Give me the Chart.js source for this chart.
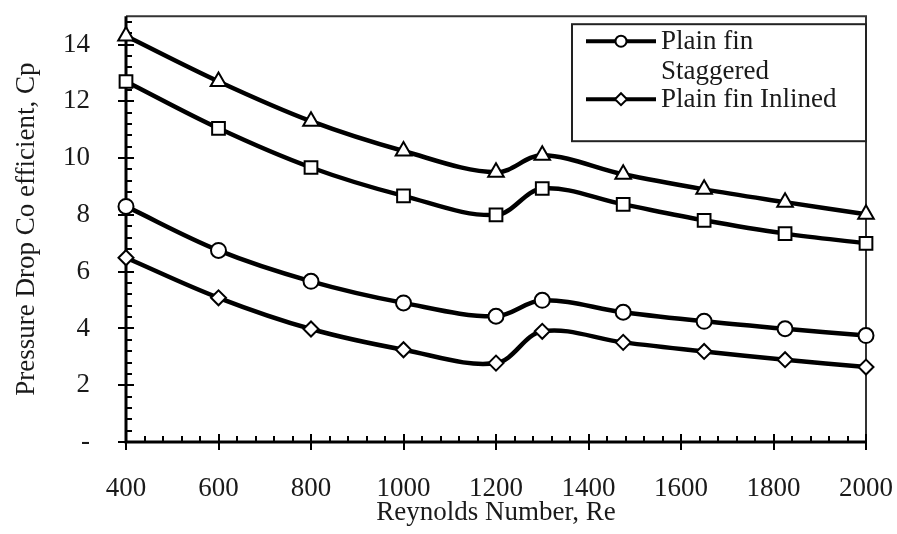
<!DOCTYPE html>
<html>
<head>
<meta charset="utf-8">
<script src="https://cdn.jsdelivr.net/npm/chart.js@4.4.1/dist/chart.umd.min.js"></script>
<style>
  html, body { margin: 0; padding: 0; background: #fff; }
  #wrap { width: 897px; height: 534px; }
</style>
</head>
<body>
<div id="wrap"><canvas id="cpChart"></canvas></div>
<script>
// data
const reynolds = [400, 600, 800, 1000, 1200, 1300, 1475, 1650, 1825, 2000];
const cpTriangle = [14.3, 12.7, 11.3, 10.25, 9.5, 10.1, 9.43, 8.9, 8.45, 8.02];
const cpSquare = [12.7, 11.05, 9.67, 8.67, 8.0, 8.93, 8.37, 7.81, 7.34, 7.0];
const cpStaggered = [8.3, 6.75, 5.66, 4.9, 4.43, 4.99, 4.57, 4.25, 3.99, 3.75];
const cpInlined = [6.49, 5.08, 3.98, 3.25, 2.78, 3.9, 3.51, 3.19, 2.9, 2.64];
const legendNames = [['Plain fin', 'Staggered'], ['Plain fin Inlined']];
const xTitle = 'Reynolds Number, Re';
const yTitle = 'Pressure Drop Co efficient, Cp';

const FONT = 'Liberation Serif, Times New Roman, serif';
const toPts = (ys) => reynolds.map((x, i) => ({ x: x, y: ys[i] }));

function series(ys, style, r) {
    return {
        data: toPts(ys),
        borderColor: '#000', borderWidth: 4.5,
        pointStyle: style, pointRadius: r, pointHoverRadius: r,
        pointBackgroundColor: '#fff', pointBorderColor: '#000', pointBorderWidth: 2,
        tension: 0.35, clip: false, fill: false
    };
}

// axis frame + major/minor ticks
const framePlugin = {
    id: 'frame',
    beforeDatasetsDraw(chart) {
        const { ctx, chartArea: a, scales: { x, y } } = chart;
        ctx.save();
        ctx.strokeStyle = '#333'; ctx.lineWidth = 2;
        ctx.beginPath();
        ctx.moveTo(a.left, a.top); ctx.lineTo(a.right, a.top); ctx.lineTo(a.right, a.bottom);
        ctx.stroke();
        ctx.strokeStyle = '#000'; ctx.lineWidth = 3;
        ctx.beginPath();
        ctx.moveTo(a.left, a.top); ctx.lineTo(a.left, a.bottom); ctx.lineTo(a.right, a.bottom);
        ctx.stroke();
        ctx.lineWidth = 2;
        ctx.beginPath();
        for (let i = 0; i <= 37; i++) {
            const py = Math.round(y.getPixelForValue(i * 0.4));
            if (i % 5 === 0) { ctx.moveTo(a.left - 8, py); ctx.lineTo(a.left + 8, py); }
            else { ctx.moveTo(a.left, py); ctx.lineTo(a.left + 6, py); }
        }
        for (let i = 0; i <= 40; i++) {
            const px = Math.round(x.getPixelForValue(400 + i * 40));
            if (i % 5 === 0) { ctx.moveTo(px, a.bottom - 8); ctx.lineTo(px, a.bottom + 8); }
            else { ctx.moveTo(px, a.bottom); ctx.lineTo(px, a.bottom - 6); }
        }
        ctx.stroke();
        ctx.restore();
    }
};

// boxed legend top right
const legendPlugin = {
    id: 'boxLegend',
    afterDraw(chart) {
        const { ctx, chartArea: a } = chart;
        const bw = 294, bh = 117;
        const bx = a.right - bw, by = a.top + 8;
        ctx.save();
        ctx.fillStyle = '#fff';
        ctx.fillRect(bx, by, bw, bh);
        ctx.strokeStyle = '#222'; ctx.lineWidth = 2;
        ctx.strokeRect(bx, by, bw, bh);
        const rows = [
            { y: by + 17, style: 'circle', r: 5.5, lines: legendNames[0] },
            { y: by + 75, style: 'rectRot', r: 6, lines: legendNames[1] }
        ];
        ctx.font = '27px ' + FONT;
        ctx.textBaseline = 'alphabetic';
        ctx.textAlign = 'left';
        rows.forEach((row) => {
            ctx.strokeStyle = '#000'; ctx.lineWidth = 4;
            ctx.beginPath(); ctx.moveTo(bx + 14, row.y); ctx.lineTo(bx + 84, row.y); ctx.stroke();
            ctx.fillStyle = '#fff'; ctx.lineWidth = 2;
            Chart.helpers.drawPoint(ctx, { pointStyle: row.style, radius: row.r, borderWidth: 2 }, bx + 49, row.y);
            ctx.fillStyle = '#1a1a1a';
            row.lines.forEach((t, k) => ctx.fillText(t, bx + 89, row.y + 8 + k * 30));
        });
        ctx.restore();
    }
};

new Chart(document.getElementById('cpChart'), {
    type: 'line',
    data: {
        datasets: [
            series(cpTriangle, 'triangle', 9),
            series(cpSquare, 'rect', 9),
            series(cpStaggered, 'circle', 7.5),
            series(cpInlined, 'rectRot', 7.5)
        ]
    },
    options: {
        responsive: true, maintainAspectRatio: false, animation: false,
        layout: { padding: { top: 15, right: 31, left: 0, bottom: 0 } },
        plugins: { legend: { display: false }, tooltip: { enabled: false } },
        scales: {
            x: {
                type: 'linear', min: 400, max: 2000,
                grid: { display: true, color: 'rgba(0,0,0,0)', drawTicks: true, tickLength: 31 },
                border: { display: false },
                ticks: {
                    stepSize: 200, padding: 0, color: '#1a1a1a', font: { family: FONT, size: 27 },
                    callback: (v) => String(v)
                },
                title: { display: true, text: xTitle, color: '#1a1a1a', padding: { top: 0, bottom: 5 }, font: { family: FONT, size: 27 } },
                afterFit(s) { s.height = 92; }
            },
            y: {
                min: 0, max: 15,
                grid: { display: true, color: 'rgba(0,0,0,0)', drawTicks: true, tickLength: 36 },
                border: { display: false },
                ticks: {
                    stepSize: 2, includeBounds: false, padding: 0, color: '#1a1a1a', font: { family: FONT, size: 27 },
                    callback: (v) => (v === 0 ? '-' : String(v))
                },
                title: { display: true, text: yTitle, color: '#1a1a1a', padding: { top: 11, bottom: 0 }, font: { family: FONT, size: 27 } },
                afterFit(s) { s.width = 126; }
            }
        }
    },
    plugins: [framePlugin, legendPlugin]
});
</script>
</body>
</html>
